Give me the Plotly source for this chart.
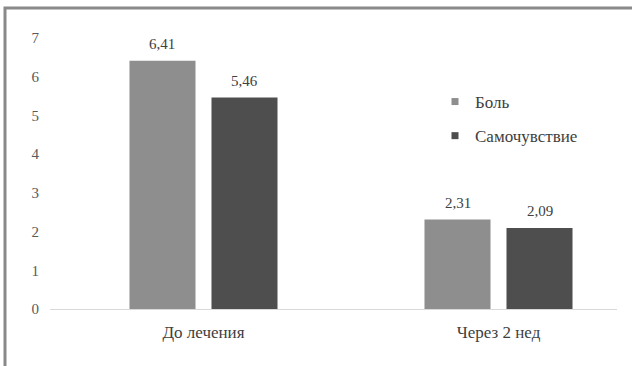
import plotly.graph_objects as go

# Chart data
categories = ["До лечения", "Через 2 нед"]
series_names = ["Боль", "Самочувствие"]
pain = [6.41, 2.31]
wellbeing = [5.46, 2.09]
y_ticks = [0, 1, 2, 3, 4, 5, 6, 7]

colors = ["#8e8e8e", "#4e4e4e"]
FONT = "serif"
W, H = 632, 366
L, R, T, B = 50, 15, 38, 57
plot_w = W - L - R
plot_h = H - T - B


def px_to_paper(px, py):
    return (px - L) / plot_w, (H - B - py) / plot_h


def fmt(v):
    return f"{v:.2f}".replace(".", ",")


fig = go.Figure()
group_shift = [-41, 41]
for k, (name, vals, col) in enumerate(zip(series_names, [pain, wellbeing], colors)):
    fig.add_trace(go.Bar(
        x=categories, y=vals, name=name, marker_color=col,
        marker_line_width=0, showlegend=False, hoverinfo="x+y",
    ))
    # value labels above each bar
    for cat, v in zip(categories, vals):
        fig.add_annotation(
            x=cat, y=v, xref="x", yref="y", text=fmt(v), showarrow=False,
            xshift=group_shift[k], yshift=17,
            font=dict(family=FONT, size=15, color="#404040"),
        )

# legend entries with small square markers
for i, (name, col) in enumerate(zip(series_names, colors)):
    fig.add_trace(go.Scatter(
        x=[None], y=[None], mode="markers", name=name,
        marker=dict(symbol="square", size=7, color=col),
        legendgroup=f"g{i}",
    ))

# frame along top and left edges
x0, y0 = px_to_paper(5, H + 2)
x1, y1 = px_to_paper(5, 8)
x2, _ = px_to_paper(W + 2, 8)
fig.add_shape(type="path", xref="paper", yref="paper",
              path=f"M {x0} {y0} L {x1} {y1} L {x2} {y1}",
              line=dict(color="#8a8a8a", width=3))

lx, ly = px_to_paper(435, 84)
fig.update_layout(
    width=W, height=H,
    margin=dict(l=L, r=R, t=T, b=B, pad=0),
    paper_bgcolor="white", plot_bgcolor="white",
    barmode="group", bargap=0.444, bargroupgap=0.195,
    separators=", ",
    font=dict(family=FONT, size=15, color="#595959"),
    xaxis=dict(range=[-0.5203, 1.4017], showline=True, linecolor="#d9d9d9",
               linewidth=1, showgrid=False, ticks="", ticklabelstandoff=8,
               tickfont=dict(family=FONT, size=17, color="#404040")),
    yaxis=dict(range=[0, 7], tickvals=y_ticks, showgrid=False,
               zeroline=False, showline=False, ticks="",
               ticklabelstandoff=10,
               tickfont=dict(family=FONT, size=15, color="#595959")),
    legend=dict(x=lx, y=ly, xanchor="left", yanchor="top",
                tracegroupgap=9, bgcolor="rgba(0,0,0,0)",
                font=dict(family=FONT, size=17, color="#404040")),
    showlegend=True,
)

fig.write_html("out.html")
